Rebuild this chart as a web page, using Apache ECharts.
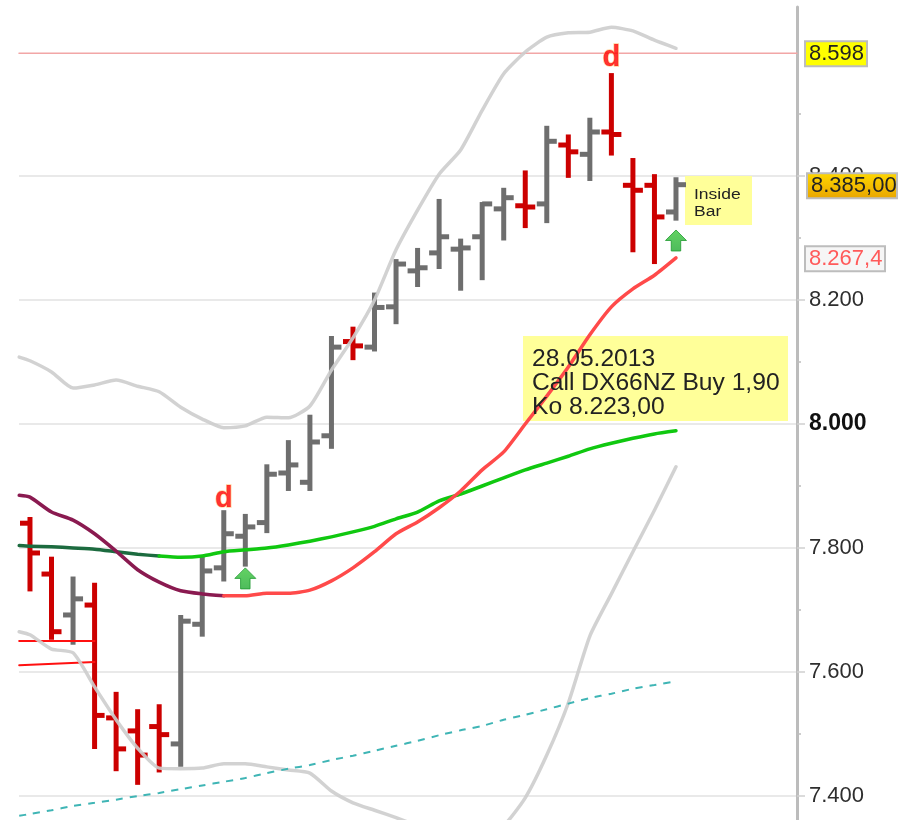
<!DOCTYPE html>
<html>
<head>
<meta charset="utf-8">
<title>DAX bar chart</title>
<script src="https://cdn.jsdelivr.net/npm/echarts@6/dist/echarts.min.js"></script>
<style>
  html, body { margin: 0; padding: 0; background: #fff; }
  #chart { width: 900px; height: 820px; }
</style>
</head>
<body>
<div id="chart"></div>
<script>
// one entry per session, oldest first
const opens  = [7840,7758,7692,7708,7526,7505,7512,7484,7677,7768,7819,7841,7921,7906,7981,8133,8124,8189,8247,8276,8282,8302,8347,8352,8355,8450,8435,8471,8385,8385,8342];
const highs  = [7850,7786,7754,7744,7568,7540,7548,7692,7786,7861,7855,7935,7974,8015,8142,8157,8212,8266,8284,8363,8299,8358,8381,8409,8481,8467,8494,8566,8429,8403,8398];
const lows   = [7730,7652,7644,7476,7440,7418,7438,7447,7657,7746,7770,7824,7892,7892,7960,8103,8117,8161,8221,8250,8215,8232,8296,8316,8324,8397,8392,8433,8277,8258,8328];
const closes = [7792,7665,7718,7530,7476,7466,7499,7682,7763,7823,7834,7919,7934,7971,8124,8126,8188,8258,8252,8302,8284,8355,8365,8350,8456,8439,8471,8467,8377,8334,8386];

// indicators: first value sits half a session before the first bar
const upperBand = [8108,8102,8084,8058,8063,8071,8061,8052,8027,8008,7994,7997,8011,8010,8029,8087,8139,8200,8281,8345,8403,8442,8506,8565,8600,8624,8631,8632,8640,8634,8619,8606];
const lowerBand = [7665,7660,7637,7631,7576,7523,7477,7445,7444,7445,7452,7452,7447,7442,7437,7408,7389,7377,7365,7352,7340,7332,7329,7352,7397,7466,7550,7658,7726,7794,7861,7931];
const maMid     = [7885,7882,7858,7845,7823,7795,7765,7745,7731,7726,7723,7723,7727,7727,7732,7747,7768,7794,7823,7842,7865,7892,7926,7955,8000,8045,8092,8144,8189,8218,8240,8268];
const maSlow    = [7804,7803,7802,7800,7798,7794,7790,7787,7785,7787,7794,7797,7800,7805,7811,7818,7826,7835,7847,7858,7876,7887,7900,7913,7926,7937,7948,7960,7969,7977,7984,7989];
const maLong    = [7368,7371,7377,7384,7389,7394,7400,7405,7411,7417,7423,7429,7437,7444,7450,7458,7465,7473,7481,7489,7498,7506,7513,7523,7531,7540,7549,7558,7565,7573,7579,7585];

const stopLineA = [7650, 7650];
const stopLineB = [7611, 7616];
const resistance = 8598;

const majorTicks = [7400,7600,7800,8000,8200,8400];
const minorTicks = [7500,7700,7900,8100,8300,8500];
const tagValues = [8598, 8385, 8267.4];
const tagTexts = ["8.598", "8.385,00", "8.267,4"];

const dBars = [9, 27];
const dValues = [7879, 8590];
const arrowBars = [10, 30];
const arrowValues = [7751, 8296];

const xMin = -0.51, xMax = 35.62;
const yMin = 7361.3, yMax = 8672.6;
const FONT = '"Liberation Sans", Arial, sans-serif';

const withIndex = (arr) => arr.map((v, i) => [i === 0 ? -0.5 : i - 1, v]);

function lineSeries(data, color, width, extra) {
  return Object.assign({
    type: "line",
    data: data,
    symbol: "none",
    silent: true,
    z: 5,
    smooth: 0.2,
    lineStyle: { color: color, width: width, cap: "round", join: "round" },
  }, extra || {});
}

const chart = echarts.init(document.getElementById("chart"));

const renderBar = (params, api) => {
  const i = api.value(0);
  const x = api.coord([i, 7400])[0];
  const hi = api.coord([i, api.value(2)])[1];
  const lo = api.coord([i, api.value(3)])[1];
  const op = api.coord([i, api.value(1)])[1];
  const cl = api.coord([i, api.value(4)])[1];
  const color = api.value(4) >= api.value(1) ? "#6e6e6e" : "#cc0000";
  const style = { fill: color };
  return {
    type: "group",
    children: [
      { type: "rect", shape: { x: x - 2.5, y: hi, width: 5, height: lo - hi }, style: style },
      { type: "rect", shape: { x: x - 10, y: op - 2.5, width: 10, height: 5 }, style: style },
      { type: "rect", shape: { x: x, y: cl - 2.5, width: 10, height: 5 }, style: style },
    ],
  };
};

const tagStyles = [
  { left: 8, width: 62, fill: "#ffff00", color: "#222" },
  { left: 10, width: 90, fill: new echarts.graphic.LinearGradient(0, 0, 0, 1, [
      { offset: 0, color: "#ffd800" }, { offset: 1, color: "#e8a400" }]), color: "#222" },
  { left: 8, width: 80, fill: "#f6f6f6", color: "#ff5a5a" },
];

const renderTag = (params, api) => {
  const p = api.coord([xMax, api.value(1)]);
  const s = tagStyles[params.dataIndex];
  return {
    type: "group",
    children: [
      {
        type: "rect",
        shape: { x: p[0] + s.left, y: p[1] - 12, width: s.width, height: 25 },
        style: { fill: s.fill, stroke: "#bdbdbd", lineWidth: 2 },
      },
      {
        type: "text",
        style: {
          x: p[0] + s.left + 4,
          y: p[1] + 1,
          text: tagTexts[params.dataIndex],
          fill: s.color,
          font: "22px " + FONT,
          textVerticalAlign: "middle",
        },
      },
    ],
  };
};

chart.setOption({
  animation: false,
  grid: { left: 19, right: 103, top: 7, bottom: 0, containLabel: false },
  xAxis: { type: "value", min: xMin, max: xMax, show: false, axisLine: { onZero: false } },
  yAxis: [
    {
      type: "value",
      position: "right",
      min: yMin,
      max: yMax,
      axisLine: { show: true, onZero: false, lineStyle: { color: "#bcbcbc", width: 3 } },
      axisTick: { show: true, length: 8, customValues: majorTicks, lineStyle: { color: "#cfcfcf", width: 1.5 } },
      splitLine: { show: true, lineStyle: { color: "#e2e2e2", width: 1.5 } },
      axisLabel: {
        show: true,
        customValues: majorTicks,
        margin: 12,
        color: "#2e2e2e",
        fontFamily: FONT,
        fontSize: 22,
        formatter: (v) => {
          const s = String(v);
          const txt = s.slice(0, 1) + "." + s.slice(1);
          return v === 8000 ? "{b|" + txt + "}" : txt;
        },
        rich: { b: { fontFamily: FONT, fontSize: 23, fontWeight: "bold", color: "#111" } },
      },
    },
    {
      type: "value",
      position: "right",
      min: yMin,
      max: yMax,
      axisLine: { show: false, onZero: false },
      axisTick: { show: true, length: 4, customValues: minorTicks, lineStyle: { color: "#bdbdbd", width: 1.5 } },
      axisLabel: { show: false },
      splitLine: { show: false },
    },
  ],
  graphic: [
    { type: "rect", z: 1, shape: { x: 523, y: 336, width: 265, height: 85 }, style: { fill: "#ffff99" } },
    { type: "rect", z: 1, shape: { x: 685, y: 176, width: 67, height: 49 }, style: { fill: "#ffff99" } },
    {
      type: "text", z: 20, x: 532, y: 348, scaleX: 1.07,
      style: { text: "28.05.2013\nCall DX66NZ Buy 1,90\nKo 8.223,00", fill: "#222", font: "23px " + FONT, lineHeight: 24 },
    },
    {
      type: "text", z: 20, x: 694, y: 187, scaleX: 1.25,
      style: { text: "Inside\nBar", fill: "#222", font: "14px " + FONT, lineHeight: 17 },
    },
  ],
  series: [
    lineSeries([[xMin, resistance], [xMax, resistance]], "#f2a6a6", 1.5, { z: 3, smooth: false }),
    {
      type: "custom",
      renderItem: renderBar,
      silent: true,
      z: 4,
      encode: { x: 0, y: [1, 2, 3, 4] },
      data: opens.map((o, i) => [i, o, highs[i], lows[i], closes[i]]),
    },
    lineSeries([[-0.5, stopLineA[0]], [3, stopLineA[1]]], "#ff1010", 2, { smooth: false }),
    lineSeries([[-0.5, stopLineB[0]], [3, stopLineB[1]]], "#ff1010", 2, { smooth: false }),
    lineSeries(withIndex(upperBand), "rgba(205,205,205,0.9)", 3.5),
    lineSeries(withIndex(lowerBand), "rgba(205,205,205,0.9)", 3.5),
    lineSeries(withIndex(maLong), "#3fb5b5", 2, { lineStyle: { color: "#3fb5b5", width: 2, type: [7, 7] } }),
    lineSeries(withIndex(maSlow).slice(0, 8), "#1c6b3f", 3.5),
    lineSeries(withIndex(maSlow).slice(7), "#10c810", 3.5),
    lineSeries(withIndex(maMid).slice(0, 11), "#8a1a50", 3.5),
    lineSeries(withIndex(maMid).slice(10), "#ff4a4a", 3.5),
    {
      type: "scatter",
      silent: true,
      z: 6,
      symbolSize: 0,
      data: dBars.map((b, i) => [b, dValues[i]]),
      label: {
        show: true,
        position: "inside",
        formatter: "d",
        color: "#ff0000",
        fontFamily: FONT,
        fontSize: 29,
        fontWeight: "bold",
        textBorderColor: "#ffc98a",
        textBorderWidth: 1.5,
      },
    },
    {
      type: "scatter",
      silent: true,
      z: 6,
      symbol: "path://M10 0 L20 10 L14.5 10 L14.5 20 L5.5 20 L5.5 10 L0 10 Z",
      symbolSize: [21, 21],
      data: arrowBars.map((b, i) => [b, arrowValues[i]]),
      itemStyle: {
        color: new echarts.graphic.LinearGradient(0, 0, 0, 1, [
          { offset: 0, color: "#3cc83c" }, { offset: 1, color: "#22aa33" }]),
        borderColor: "#1f9a30",
        borderWidth: 1,
      },
    },
    {
      type: "custom",
      renderItem: renderTag,
      silent: true,
      z: 10,
      clip: false,
      encode: { x: 0, y: 1 },
      data: tagValues.map((v) => [xMax, v]),
    },
  ],
});
</script>
</body>
</html>
